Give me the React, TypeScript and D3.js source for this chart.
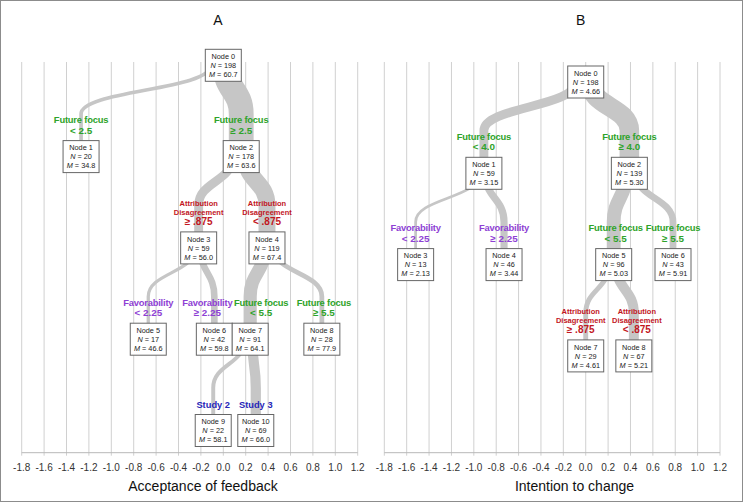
import React from "react";
import * as d3 from "d3";

// ---------- DATA ----------
const tickValues = [-1.8, -1.6, -1.4, -1.2, -1.0, -0.8, -0.6, -0.4, -0.2, 0.0, 0.2, 0.4, 0.6, 0.8, 1.0, 1.2];

const panelTitles = ["A", "B"];
const axisTitles = ["Acceptance of feedback", "Intention to change"];

// node id, parent id, depth level, N, M, effect (x position in axis units)
const nodesA = [
  { id: 0, parent: -1, level: 0, n: 198, mean: "60.7", effect: 0.0 },
  { id: 1, parent: 0, level: 1, n: 20, mean: "34.8", effect: -1.27 },
  { id: 2, parent: 0, level: 1, n: 178, mean: "63.6", effect: 0.16 },
  { id: 3, parent: 2, level: 2, n: 59, mean: "56.0", effect: -0.22 },
  { id: 4, parent: 2, level: 2, n: 119, mean: "67.4", effect: 0.39 },
  { id: 5, parent: 3, level: 3, n: 17, mean: "46.6", effect: -0.67 },
  { id: 6, parent: 3, level: 3, n: 42, mean: "59.8", effect: -0.08 },
  { id: 7, parent: 4, level: 3, n: 91, mean: "64.1", effect: 0.24 },
  { id: 8, parent: 4, level: 3, n: 28, mean: "77.9", effect: 0.88 },
  { id: 9, parent: 7, level: 4, n: 22, mean: "58.1", effect: -0.09 },
  { id: 10, parent: 7, level: 4, n: 69, mean: "66.0", effect: 0.29 },
];

const nodesB = [
  { id: 0, parent: -1, level: 0, n: 198, mean: "4.66", effect: 0.0 },
  { id: 1, parent: 0, level: 1, n: 59, mean: "3.15", effect: -0.91 },
  { id: 2, parent: 0, level: 1, n: 139, mean: "5.30", effect: 0.39 },
  { id: 3, parent: 1, level: 2, n: 13, mean: "2.13", effect: -1.52 },
  { id: 4, parent: 1, level: 2, n: 46, mean: "3.44", effect: -0.73 },
  { id: 5, parent: 2, level: 2, n: 96, mean: "5.03", effect: 0.25 },
  { id: 6, parent: 2, level: 2, n: 43, mean: "5.91", effect: 0.78 },
  { id: 7, parent: 5, level: 3, n: 29, mean: "4.61", effect: 0.0 },
  { id: 8, parent: 5, level: 3, n: 67, mean: "5.21", effect: 0.43 },
];

// split labels shown above each child node
const splitsA = [
  { id: 1, kind: "focus", lines: ["Future focus", "< 2.5"] },
  { id: 2, kind: "focus", lines: ["Future focus", "≥ 2.5"] },
  { id: 3, kind: "attr", lines: ["Attribution", "Disagreement", "≥ .875"] },
  { id: 4, kind: "attr", lines: ["Attribution", "Disagreement", "< .875"] },
  { id: 5, kind: "fav", lines: ["Favorability", "< 2.25"] },
  { id: 6, kind: "fav", lines: ["Favorability", "≥ 2.25"] },
  { id: 7, kind: "focus", lines: ["Future focus", "< 5.5"] },
  { id: 8, kind: "focus", lines: ["Future focus", "≥ 5.5"] },
  { id: 9, kind: "study", lines: ["Study 2"] },
  { id: 10, kind: "study", lines: ["Study 3"] },
];

const splitsB = [
  { id: 1, kind: "focus", lines: ["Future focus", "< 4.0"] },
  { id: 2, kind: "focus", lines: ["Future focus", "≥ 4.0"] },
  { id: 3, kind: "fav", lines: ["Favorability", "< 2.25"] },
  { id: 4, kind: "fav", lines: ["Favorability", "≥ 2.25"] },
  { id: 5, kind: "focus", lines: ["Future focus", "< 5.5"] },
  { id: 6, kind: "focus", lines: ["Future focus", "≥ 5.5"] },
  { id: 7, kind: "attr", lines: ["Attribution", "Disagreement", "≥ .875"] },
  { id: 8, kind: "attr", lines: ["Attribution", "Disagreement", "< .875"] },
];

// ---------- STYLE / LAYOUT ----------
const FONT = "'Liberation Sans', Arial, Helvetica, sans-serif";
const kindColor: Record<string, string> = {
  focus: "#2ea32a",
  fav: "#8e3fd4",
  attr: "#c2161e",
  study: "#2626b8",
};
const BAND = "#c6c6c6";
const GRID = "#d0d0d0";
const BOX_W = 36;
const BOX_H = 32;
// small horizontal nudges (px) so neighbouring split labels do not collide
const labelNudgeA: Record<number, number> = { 6: -7, 7: 11, 8: 2 };
const labelNudgeB: Record<number, number> = { 5: 2, 7: -5, 8: 3 };

type Node = { id: number; parent: number; level: number; n: number; mean: string; effect: number };
type Split = { id: number; kind: string; lines: string[] };

function Panel(props: {
  nodes: Node[];
  splits: Split[];
  nudge: Record<number, number>;
  x0: number;
  x1: number;
  top0: number;
  title: string;
  titleX: number;
  axisTitle: string;
  axisTitleX: number;
}) {
  const { nodes, splits, nudge, x0, x1, top0, title, titleX, axisTitle, axisTitleX } = props;
  const x = d3.scaleLinear().domain([-1.8, 1.2]).range([x0, x1]);
  const yTop = d3.scaleLinear().domain([0, 1]).range([top0, top0 + 91.3]);
  const bw = d3.scaleLinear().domain([0, 198]).range([1, 27.5]);
  const gridTop = 62;
  const axisY = 452.7;

  const byId = new Map(nodes.map((d) => [d.id, d]));
  const startX = new Map<number, number>();
  nodes.forEach((p) => {
    const kids = nodes.filter((c) => c.parent === p.id).sort((a, b) => a.effect - b.effect);
    if (!kids.length) return;
    const total = d3.sum(kids, (k) => bw(k.n));
    let cur = x(p.effect) - total / 2;
    kids.forEach((k) => {
      const w = bw(k.n);
      startX.set(k.id, cur + w / 2);
      cur += w;
    });
  });

  const links = nodes
    .filter((d) => d.parent >= 0)
    .map((c) => {
      const p = byId.get(c.parent)!;
      const xs = startX.get(c.id)!;
      const xc = x(c.effect);
      const pTop = yTop(p.level);
      const y0 = pTop + BOX_H / 2;
      const yb = pTop + BOX_H;
      const yc = yTop(c.level);
      const gap = yc - yb;
      const yM = yb + 0.15 * gap;
      const yE = yb + 0.55 * gap;
      const path = d3.path();
      path.moveTo(xs, y0);
      path.bezierCurveTo(xs, yM, xc, yM, xc, yE);
      path.lineTo(xc, yc + 4);
      return { id: c.id, d: path.toString(), w: bw(c.n) };
    });

  return (
    <g>
      {tickValues.map((t) => (
        <line key={"g" + t} x1={x(t)} x2={x(t)} y1={gridTop} y2={axisY + 3} stroke={GRID} strokeWidth={1} />
      ))}
      <line x1={x0} x2={x1} y1={axisY} y2={axisY} stroke="#b8b8b8" strokeWidth={1} />
      {tickValues.map((t) => (
        <text key={"t" + t} x={x(t)} y={471} textAnchor="middle" fontFamily={FONT} fontSize={10} fill="#333">
          {t.toFixed(1)}
        </text>
      ))}
      {links.map((l) => (
        <path key={"l" + l.id} d={l.d} fill="none" stroke={BAND} strokeWidth={l.w} strokeLinecap="butt" />
      ))}
      {nodes.map((d) => {
        const cx = x(d.effect);
        const t = yTop(d.level);
        return (
          <g key={"n" + d.id} fontFamily={FONT} fontSize={7.3} fill="#222" textAnchor="middle">
            <rect x={cx - BOX_W / 2} y={t} width={BOX_W} height={BOX_H} fill="#fff" stroke="#666" strokeWidth={1} />
            <text x={cx} y={t + 9.7}>{"Node " + d.id}</text>
            <text x={cx} y={t + 18.6}>
              <tspan fontStyle="italic">N</tspan>
              {" = " + d.n}
            </text>
            <text x={cx} y={t + 27.6}>
              <tspan fontStyle="italic">M</tspan>
              {" = " + d.mean}
            </text>
          </g>
        );
      })}
      {splits.map((s) => {
        const nd = byId.get(s.id)!;
        const cx = x(nd.effect) + (nudge[s.id] || 0);
        const t = yTop(nd.level);
        const col = kindColor[s.kind];
        const common = { x: cx, textAnchor: "middle" as const, fontFamily: FONT, fontWeight: "bold" as const, fill: col };
        if (s.kind === "attr") {
          return (
            <g key={"s" + s.id}>
              <text {...common} y={t - 25.5} fontSize={7.5}>{s.lines[0]}</text>
              <text {...common} y={t - 17} fontSize={7.5}>{s.lines[1]}</text>
              <text {...common} y={t - 7} fontSize={10}>{s.lines[2]}</text>
            </g>
          );
        }
        if (s.kind === "study") {
          return (
            <text key={"s" + s.id} {...common} y={t - 6.5} fontSize={9.3}>
              {s.lines[0]}
            </text>
          );
        }
        return (
          <g key={"s" + s.id}>
            <text {...common} y={t - 17.5} fontSize={9.4} letterSpacing={-0.2}>{s.lines[0]}</text>
            <text {...common} y={t - 7} fontSize={9.9}>{s.lines[1]}</text>
          </g>
        );
      })}
      <text x={titleX} y={25} textAnchor="middle" fontFamily={FONT} fontSize={14} fill="#111">
        {title}
      </text>
      <text x={axisTitleX} y={490.5} textAnchor="middle" fontFamily={FONT} fontSize={14} fill="#111">
        {axisTitle}
      </text>
    </g>
  );
}

export default function App() {
  return (
    <svg width={749} height={503} style={{ position: "absolute", left: 0, top: 0, background: "#fff" }}>
      <rect x={0} y={0} width={749} height={503} fill="#fff" />
      <Panel
        nodes={nodesA}
        splits={splitsA}
        nudge={labelNudgeA}
        x0={21.7}
        x1={357.7}
        top0={49.3}
        title={panelTitles[0]}
        titleX={218}
        axisTitle={axisTitles[0]}
        axisTitleX={203}
      />
      <Panel
        nodes={nodesB}
        splits={splitsB}
        nudge={labelNudgeB}
        x0={384.3}
        x1={720}
        top0={66}
        title={panelTitles[1]}
        titleX={580.7}
        axisTitle={axisTitles[1]}
        axisTitleX={574.5}
      />
      <rect x={0.5} y={0.5} width={742} height={501} fill="none" stroke="#8c8c8c" strokeWidth={1} />
    </svg>
  );
}
